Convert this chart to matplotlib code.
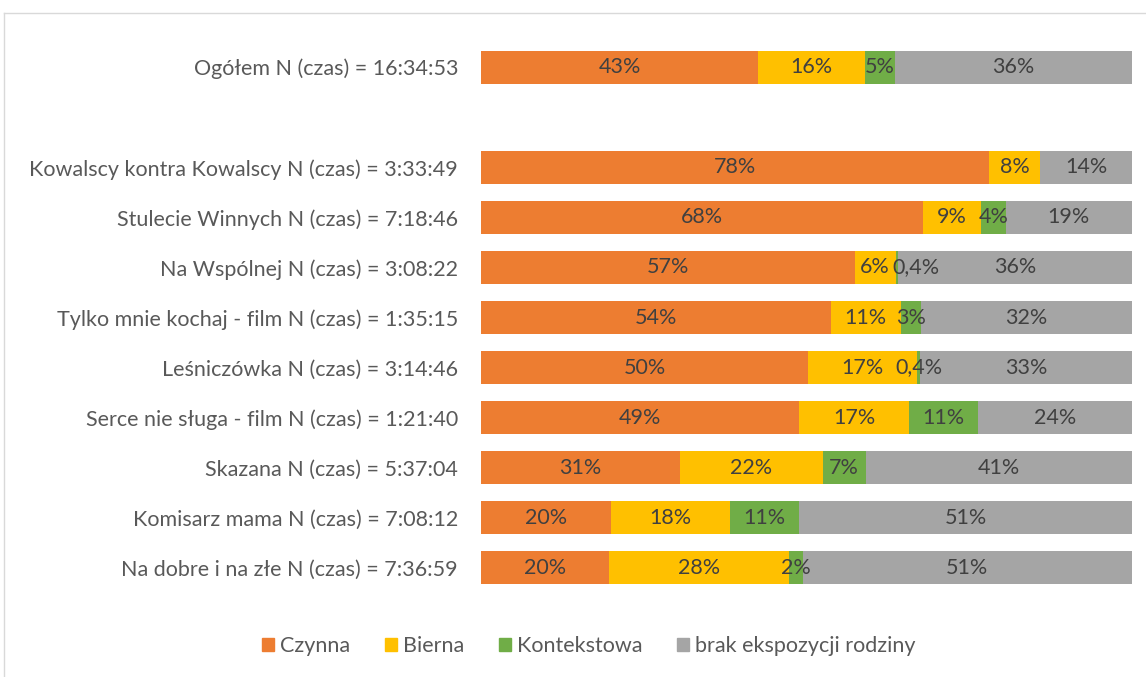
import matplotlib.pyplot as plt
from matplotlib.lines import Line2D
import numpy as np

plt.rcParams['font.family'] = ['Lato', 'DejaVu Sans']

# kategorie od góry; None = pusty wiersz
categories = [
    'Ogółem N (czas) = 16:34:53',
    None,
    'Kowalscy kontra Kowalscy N (czas) = 3:33:49',
    'Stulecie Winnych N (czas) = 7:18:46',
    'Na Wspólnej N (czas) = 3:08:22',
    'Tylko mnie kochaj - film N (czas) = 1:35:15',
    'Leśniczówka N (czas) = 3:14:46',
    'Serce nie sługa - film N (czas) = 1:21:40',
    'Skazana N (czas) = 5:37:04',
    'Komisarz mama N (czas) = 7:08:12',
    'Na dobre i na złe N (czas) = 7:36:59',
]

series = ['Czynna', 'Bierna', 'Kontekstowa', 'brak ekspozycji rodziny']
czynna = [42.6, None, 78.0, 67.9, 57.4, 53.7, 50.3, 48.9, 30.6, 19.9, 19.6]
bierna = [16.4, None, 7.9, 8.9, 6.3, 10.8, 16.7, 16.8, 21.9, 18.3, 27.7]
kontekstowa = [4.6, None, 0.0, 3.8, 0.4, 3.1, 0.4, 10.6, 6.6, 10.7, 2.1]
brak = [36.4, None, 14.1, 19.4, 35.9, 32.4, 32.6, 23.7, 40.9, 51.1, 50.6]

colors = ['#ED7D31', '#FFC000', '#70AD47', '#A5A5A5']


def fmt(v):
    if v < 1:
        return f"{v:.1f}".replace('.', ',') + '%'
    return f"{round(v)}%"


W, H = 1146, 677
fig = plt.figure(figsize=(W / 100, H / 100), dpi=100)
ax = fig.add_axes([481 / W, 1 - 593 / H, 651 / W, 551 / H])

pos = np.arange(len(categories))
left = np.zeros(len(categories))
for k, (name, vals, col) in enumerate(zip(series, [czynna, bierna, kontekstowa, brak], colors)):
    for i, v in enumerate(vals):
        if v is None:
            continue
        if v > 0:
            ax.barh(pos[i], v, left=left[i], height=0.66, color=col,
                    edgecolor='none', label=name if i == 0 else None)
            # etykieta 0,4% w "Na Wspólnej" przesunięta w prawo jak w oryginale
            dx = 19 if (k == 2 and i == 4) else 0
            ax.annotate(fmt(v), (left[i] + v / 2, pos[i]), xytext=(dx, 0),
                        textcoords='offset pixels', ha='center', va='center',
                        fontsize=15.5, color='#404040')
        left[i] += v

ax.set_xlim(0, 100)
ax.set_ylim(len(categories) - 0.5, -0.5)
ax.set_yticks(pos)
ax.set_yticklabels([c if c else '' for c in categories], fontsize=15.5, color='#595959')
ax.tick_params(axis='y', length=0, pad=16.5)
ax.set_xticks([])
for s in ax.spines.values():
    s.set_visible(False)

handles = [plt.Rectangle((0, 0), 1, 1, color=c) for c in colors]
fig.legend(handles, series, loc='center', bbox_to_anchor=(589 / W, 1 - 646 / H),
           ncol=4, frameon=False, fontsize=15.5, labelcolor='#595959',
           handlelength=0.55, handleheight=0.55, handletextpad=0.3, columnspacing=1.6)

# ramka wykresu (częściowo poza obrazem)
fig.add_artist(Line2D([4 / W, 1.0], [1 - 13 / H, 1 - 13 / H], color='#D9D9D9', lw=1))
fig.add_artist(Line2D([4 / W, 4 / W], [0.0, 1 - 13 / H], color='#D9D9D9', lw=1))

fig.savefig('out.png', dpi=100)
